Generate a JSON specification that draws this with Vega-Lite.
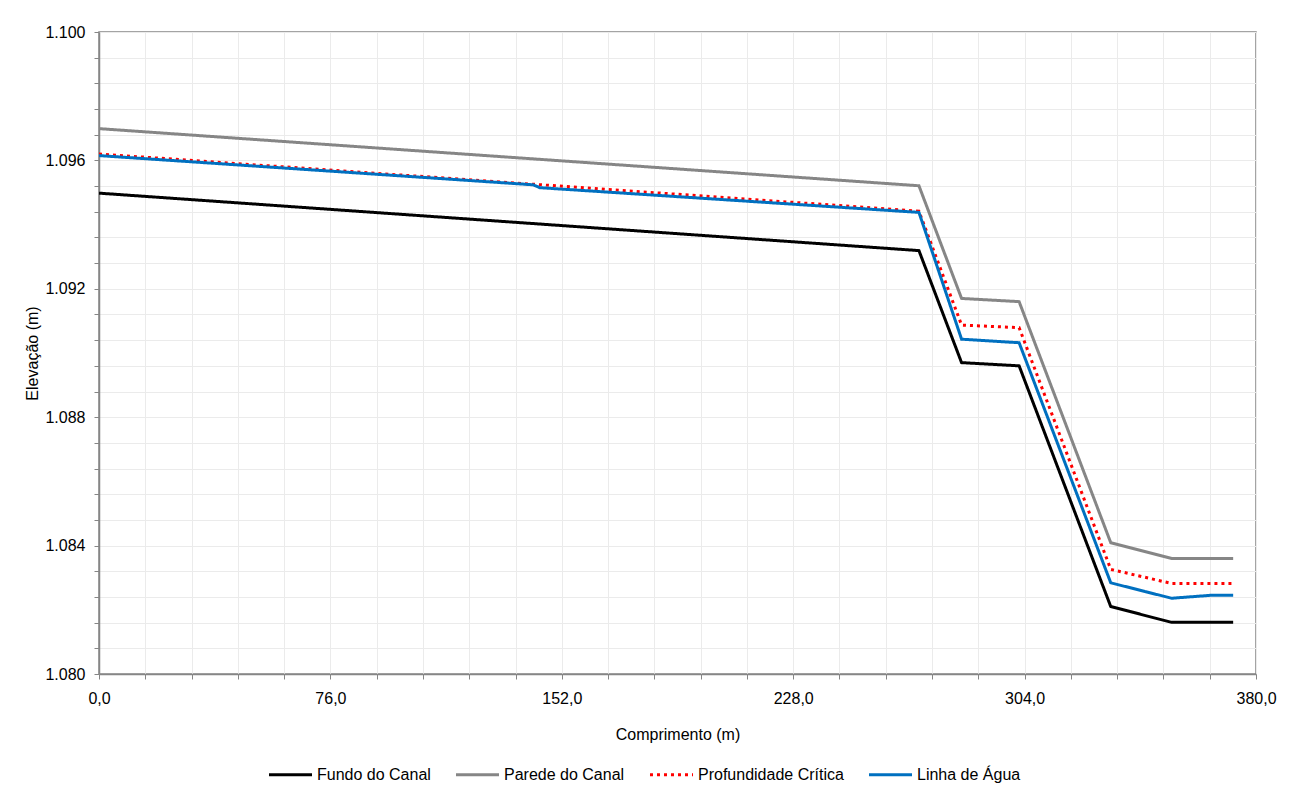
{
  "$schema": "https://vega.github.io/schema/vega-lite/v6.json",
  "width": 1157,
  "height": 642,
  "autosize": {"type": "none"},
  "padding": {"left": 99, "top": 32, "right": 35, "bottom": 116},
  "background": "#ffffff",
  "config": {
    "font": "Liberation Sans",
    "view": {"stroke": "#868686", "strokeWidth": 1.5},
    "axis": {
      "domainColor": "#868686",
      "domainWidth": 1.5,
      "tickColor": "#868686",
      "tickSize": 5,
      "tickWidth": 1,
      "gridColor": "#EBEBEB",
      "gridWidth": 1,
      "labelColor": "#000000",
      "labelFontSize": 16,
      "titleColor": "#000000",
      "titleFontSize": 16,
      "titleFontWeight": "normal"
    },
    "legend": {
      "labelFontSize": 16,
      "labelColor": "#000000"
    }
  },
  "data": {
    "values": [
      {"comprimento": 0, "elevacao": 1.09498, "serie": "Fundo do Canal"},
      {"comprimento": 269.3, "elevacao": 1.09319, "serie": "Fundo do Canal"},
      {"comprimento": 283.3, "elevacao": 1.08970, "serie": "Fundo do Canal"},
      {"comprimento": 302.2, "elevacao": 1.08960, "serie": "Fundo do Canal"},
      {"comprimento": 332.3, "elevacao": 1.08210, "serie": "Fundo do Canal"},
      {"comprimento": 352.3, "elevacao": 1.08161, "serie": "Fundo do Canal"},
      {"comprimento": 372.5, "elevacao": 1.08161, "serie": "Fundo do Canal"},

      {"comprimento": 0, "elevacao": 1.09699, "serie": "Parede do Canal"},
      {"comprimento": 269.3, "elevacao": 1.09521, "serie": "Parede do Canal"},
      {"comprimento": 283.3, "elevacao": 1.09170, "serie": "Parede do Canal"},
      {"comprimento": 302.2, "elevacao": 1.09160, "serie": "Parede do Canal"},
      {"comprimento": 332.3, "elevacao": 1.08409, "serie": "Parede do Canal"},
      {"comprimento": 352.3, "elevacao": 1.08360, "serie": "Parede do Canal"},
      {"comprimento": 372.5, "elevacao": 1.08360, "serie": "Parede do Canal"},

      {"comprimento": 0, "elevacao": 1.09620, "serie": "Profundidade Crítica"},
      {"comprimento": 269.3, "elevacao": 1.09442, "serie": "Profundidade Crítica"},
      {"comprimento": 283.3, "elevacao": 1.09087, "serie": "Profundidade Crítica"},
      {"comprimento": 302.2, "elevacao": 1.09079, "serie": "Profundidade Crítica"},
      {"comprimento": 332.3, "elevacao": 1.08326, "serie": "Profundidade Crítica"},
      {"comprimento": 352.3, "elevacao": 1.08282, "serie": "Profundidade Crítica"},
      {"comprimento": 372.5, "elevacao": 1.08282, "serie": "Profundidade Crítica"},

      {"comprimento": 0, "elevacao": 1.09615, "serie": "Linha de Água"},
      {"comprimento": 142.6, "elevacao": 1.09524, "serie": "Linha de Água"},
      {"comprimento": 144.8, "elevacao": 1.09515, "serie": "Linha de Água"},
      {"comprimento": 269.3, "elevacao": 1.09438, "serie": "Linha de Água"},
      {"comprimento": 283.3, "elevacao": 1.09043, "serie": "Linha de Água"},
      {"comprimento": 302.2, "elevacao": 1.09032, "serie": "Linha de Água"},
      {"comprimento": 332.3, "elevacao": 1.08284, "serie": "Linha de Água"},
      {"comprimento": 352.3, "elevacao": 1.08236, "serie": "Linha de Água"},
      {"comprimento": 364.9, "elevacao": 1.08245, "serie": "Linha de Água"},
      {"comprimento": 372.5, "elevacao": 1.08245, "serie": "Linha de Água"}
    ]
  },
  "mark": {"type": "line", "strokeWidth": 3, "clip": true},
  "encoding": {
    "x": {
      "field": "comprimento",
      "type": "quantitative",
      "scale": {"domain": [0, 380], "nice": false, "zero": false},
      "axis": {
        "title": "Comprimento (m)",
        "values": [0, 15.2, 30.4, 45.6, 60.8, 76, 91.2, 106.4, 121.6, 136.8, 152, 167.2, 182.4, 197.6, 212.8, 228, 243.2, 258.4, 273.6, 288.8, 304, 319.2, 334.4, 349.6, 364.8, 380],
        "labelExpr": "abs(datum.value / 76 - round(datum.value / 76)) < 0.01 ? replace(format(datum.value, '.1f'), '.', ',') : ''",
        "labelPadding": 11,
        "titlePadding": 20,
        "labelFlush": false
      }
    },
    "y": {
      "field": "elevacao",
      "type": "quantitative",
      "scale": {"domain": [1.08, 1.1], "nice": false, "zero": false},
      "axis": {
        "title": "Elevação (m)",
        "values": [1.08, 1.0808, 1.0816, 1.0824, 1.0832, 1.084, 1.0848, 1.0856, 1.0864, 1.0872, 1.088, 1.0888, 1.0896, 1.0904, 1.0912, 1.092, 1.0928, 1.0936, 1.0944, 1.0952, 1.096, 1.0968, 1.0976, 1.0984, 1.0992, 1.1],
        "labelExpr": "abs((datum.value - 1.08) / 0.004 - round((datum.value - 1.08) / 0.004)) < 0.01 ? format(datum.value, '.3f') : ''",
        "labelPadding": 9,
        "titlePadding": 4,
        "labelFlush": false
      }
    },
    "color": {
      "field": "serie",
      "type": "nominal",
      "sort": ["Fundo do Canal", "Parede do Canal", "Profundidade Crítica", "Linha de Água"],
      "scale": {
        "domain": ["Fundo do Canal", "Parede do Canal", "Profundidade Crítica", "Linha de Água"],
        "range": ["#000000", "#868686", "#FF0000", "#0070C0"]
      },
      "legend": {
        "title": null,
        "orient": "none",
        "legendX": 168,
        "legendY": 719,
        "direction": "horizontal",
        "symbolType": "stroke",
        "symbolSize": 1850,
        "symbolStrokeWidth": 3,
        "labelOffset": 3,
        "columnPadding": 18
      }
    },
    "strokeDash": {
      "field": "serie",
      "type": "nominal",
      "sort": ["Fundo do Canal", "Parede do Canal", "Profundidade Crítica", "Linha de Água"],
      "scale": {
        "domain": ["Fundo do Canal", "Parede do Canal", "Profundidade Crítica", "Linha de Água"],
        "range": [[1, 0], [1, 0], [3, 4], [1, 0]]
      },
      "legend": null
    }
  }
}
